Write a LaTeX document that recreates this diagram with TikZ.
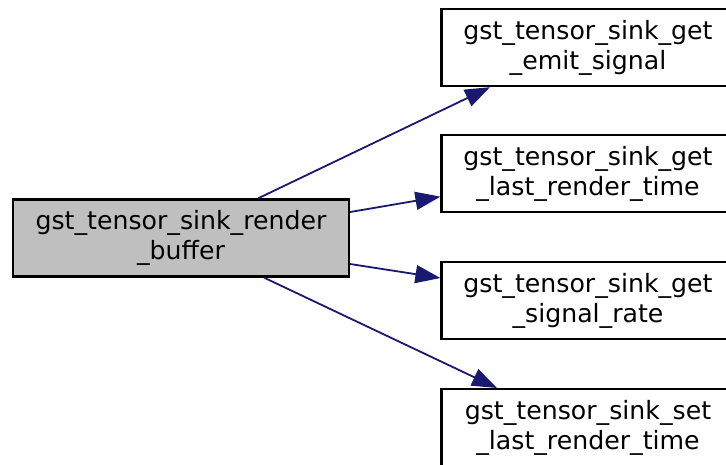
\documentclass[tikz,border=0pt]{standalone}
\usepackage{fontspec}
\setmainfont{DejaVu Sans}
\usetikzlibrary{arrows.meta}
\definecolor{edgenavy}{HTML}{191970}
\definecolor{nodegray}{HTML}{BFBFBF}
\begin{document}
\begin{tikzpicture}[x=1pt,y=-1pt,
  fnbox/.style={draw=black,line width=2.2pt,fill=white,align=center,inner sep=0pt,
    font=\fontsize{25.2}{30}\selectfont,minimum height=77pt},
  leftbox/.style={fnbox,fill=nodegray,minimum width=336pt},
  rightbox/.style={fnbox,minimum width=293pt},
  calledge/.style={draw=edgenavy,line width=1.8pt,-{Triangle[length=25pt,width=18pt,fill=edgenavy]}}]
\clip (0,0) rectangle (726,464);
\fill[white] (0,0) rectangle (726,464);
\node[leftbox] (l) at (181,238) {gst\_tensor\_sink\_render\\\_buffer};
\node[rightbox] (r1) at (588,47.6) {gst\_tensor\_sink\_get\\\_emit\_signal};
\node[rightbox] (r2) at (588,173.6) {gst\_tensor\_sink\_get\\\_last\_render\_time};
\node[rightbox] (r3) at (588,300.6) {gst\_tensor\_sink\_get\\\_signal\_rate};
\node[rightbox] (r4) at (588,427.6) {gst\_tensor\_sink\_set\\\_last\_render\_time};
\draw[calledge] ([xshift=77pt]l.north) -- ([xshift=-98pt]r1.south);
\draw[calledge] ([yshift=26pt]l.east) -- ([yshift=-23pt]r2.west);
\draw[calledge] ([yshift=-26pt]l.east) -- ([yshift=22.6pt]r3.west);
\draw[calledge] ([xshift=83pt]l.south) -- ([xshift=-91pt]r4.north);
\end{tikzpicture}
\end{document}
